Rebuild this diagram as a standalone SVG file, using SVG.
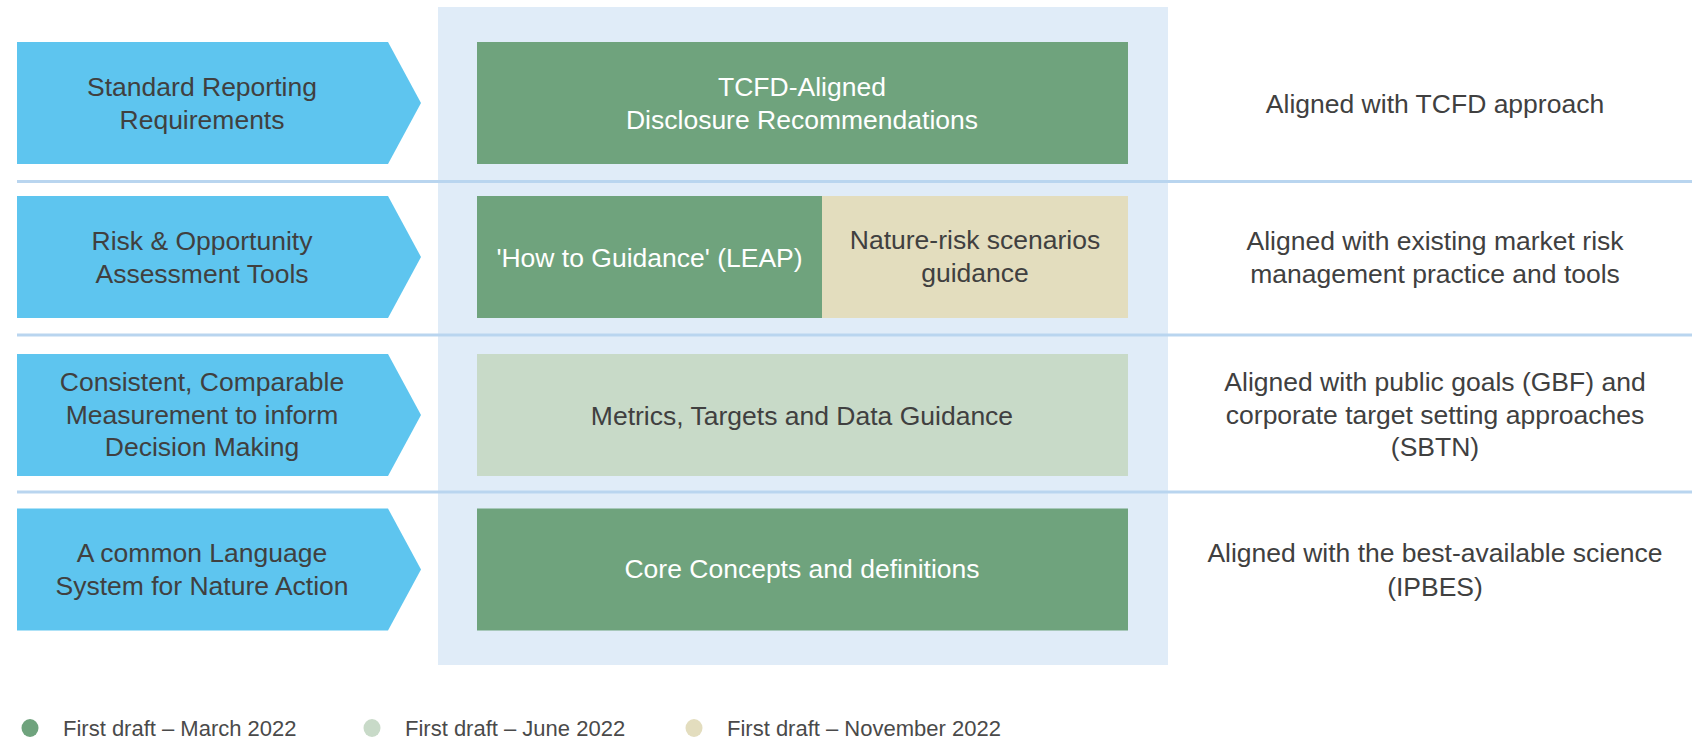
<svg xmlns="http://www.w3.org/2000/svg" width="1692" height="739" viewBox="0 0 1692 739">
  <style>
    text { font-family: "Liberation Sans", Arial, sans-serif; font-size: 26.5px; text-anchor: middle; fill: #404040; }
    .w { fill: #ffffff; }
    .leg { font-size: 22px; text-anchor: start; fill: #4a4a4a; }
    .arrow { fill: #5ec5ef; }
    .dg { fill: #6fa37d; }
    .lg { fill: #c8dac8; }
    .bg { fill: #e3ddbe; }
    .rule { stroke: #b9d5ef; stroke-width: 3; }
  </style>
  <rect width="1692" height="739" fill="#ffffff"/>

  <!-- framework column panel -->
  <rect id="panel" x="438" y="7" width="730" height="658" fill="#e0ecf8"/>

  <!-- row separators -->
  <g id="separators">
    <line class="rule" x1="17" y1="181.5" x2="1692" y2="181.5"/>
    <line class="rule" x1="17" y1="335" x2="1692" y2="335"/>
    <line class="rule" x1="17" y1="492" x2="1692" y2="492"/>
  </g>

  <!-- row 1 -->
  <g id="need-reporting">
    <polygon class="arrow" points="17,42 388,42 421,103 388,164 17,164"/>
    <text x="202" y="96">Standard Reporting</text>
    <text x="202" y="129">Requirements</text>
  </g>
  <g id="tcfd-recommendations">
    <rect class="dg" x="477" y="42" width="651" height="122"/>
    <text class="w" x="802" y="96">TCFD-Aligned</text>
    <text class="w" x="802" y="129">Disclosure Recommendations</text>
  </g>
  <g id="aligned-tcfd">
    <text x="1435" y="113">Aligned with TCFD approach</text>
  </g>

  <!-- row 2 -->
  <g id="need-assessment">
    <polygon class="arrow" points="17,196 388,196 421,257 388,318 17,318"/>
    <text x="202" y="250">Risk &amp; Opportunity</text>
    <text x="202" y="283">Assessment Tools</text>
  </g>
  <g id="leap-guidance">
    <rect class="dg" x="477" y="196" width="345" height="122"/>
    <text class="w" x="649.5" y="267">'How to Guidance' (LEAP)</text>
  </g>
  <g id="scenarios-guidance">
    <rect class="bg" x="822" y="196" width="306" height="122"/>
    <text x="975" y="249">Nature-risk scenarios</text>
    <text x="975" y="282">guidance</text>
  </g>
  <g id="aligned-market">
    <text x="1435" y="250">Aligned with existing market risk</text>
    <text x="1435" y="283">management practice and tools</text>
  </g>

  <!-- row 3 -->
  <g id="need-measurement">
    <polygon class="arrow" points="17,354 388,354 421,415 388,476 17,476"/>
    <text x="202" y="391">Consistent, Comparable</text>
    <text x="202" y="423.5">Measurement to inform</text>
    <text x="202" y="456">Decision Making</text>
  </g>
  <g id="metrics-guidance">
    <rect class="lg" x="477" y="354" width="651" height="122"/>
    <text x="802" y="424.5">Metrics, Targets and Data Guidance</text>
  </g>
  <g id="aligned-goals">
    <text x="1435" y="391">Aligned with public goals (GBF) and</text>
    <text x="1435" y="423.5">corporate target setting approaches</text>
    <text x="1435" y="456">(SBTN)</text>
  </g>

  <!-- row 4 -->
  <g id="need-language">
    <polygon class="arrow" points="17,508.5 388,508.5 421,569.5 388,630.5 17,630.5"/>
    <text x="202" y="562">A common Language</text>
    <text x="202" y="595">System for Nature Action</text>
  </g>
  <g id="core-concepts">
    <rect class="dg" x="477" y="508.5" width="651" height="122"/>
    <text class="w" x="802" y="578">Core Concepts and definitions</text>
  </g>
  <g id="aligned-science">
    <text x="1435" y="562">Aligned with the best-available science</text>
    <text x="1435" y="596">(IPBES)</text>
  </g>

  <!-- legend -->
  <g id="legend">
    <ellipse class="dg" cx="30" cy="728" rx="8.5" ry="9"/>
    <text class="leg" x="63" y="736">First draft – March 2022</text>
    <ellipse class="lg" cx="372" cy="728" rx="8.5" ry="9"/>
    <text class="leg" x="405" y="736">First draft – June 2022</text>
    <ellipse class="bg" cx="694" cy="728" rx="8.5" ry="9"/>
    <text class="leg" x="727" y="736">First draft – November 2022</text>
  </g>
</svg>
